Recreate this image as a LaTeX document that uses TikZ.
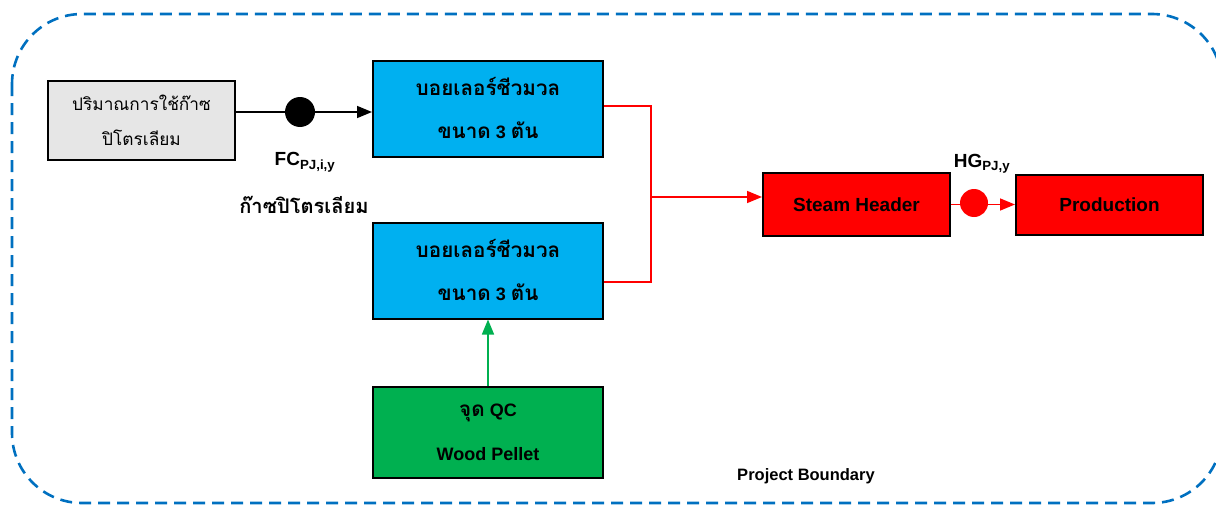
\documentclass[tikz,border=0pt]{standalone}
\usepackage{fontspec}
\setmainfont{Liberation Sans}
\newfontfamily\thaifont[Script=Thai,Scale=1.15]{Loma}
\newcommand{\thai}[1]{{\thaifont #1}}
\usetikzlibrary{positioning,arrows.meta}
\definecolor{gasgray}{HTML}{E6E6E6}
\definecolor{boilerblue}{HTML}{00B0F0}
\definecolor{qcgreen}{HTML}{00B050}
\definecolor{boundblue}{HTML}{0070C0}

\begin{document}
\begin{tikzpicture}[
  x=1pt, y=-1pt,
  box/.style={draw, line width=2pt, align=center, inner sep=0pt},
  boiler/.style={box, fill=boilerblue, minimum width=230pt, minimum height=96pt, font=\bfseries\fontsize{18}{43}\selectfont},
  redbox/.style={box, fill=red, minimum width=187pt, font=\bfseries\fontsize{19}{23}\selectfont},
  dot/.style={circle, inner sep=0pt, minimum size=30pt},
  flow/.style={line width=1.6pt},
  >={Triangle[length=15pt,width=12pt]}
]
\useasboundingbox (0,0) rectangle (1216,506);

% project boundary
\draw[boundblue, line width=2.6pt, dash pattern=on 12pt off 7pt, rounded corners=70pt]
  (12,14) rectangle (1222,503);
\node[font=\bfseries\fontsize{16.5}{20}\selectfont] (boundary) at (806,476) {Project Boundary};

% nodes
\node[box, fill=gasgray, minimum width=187pt, minimum height=79pt,
  font=\thaifont\fontsize{15}{35}\selectfont] (gas) at (141.5,120.5) {ปริมาณการใช้ก๊าซ\\ปิโตรเลียม};
\node[boiler] (boilerA) at (488,108.5) {\thai{บอยเลอร์ชีวมวล}\\\thai{ขนาด} 3 \thai{ตัน}};
\node[boiler, below=64pt of boilerA] (boilerB) {\thai{บอยเลอร์ชีวมวล}\\\thai{ขนาด} 3 \thai{ตัน}};
\node[box, fill=qcgreen, minimum width=230pt, minimum height=91pt,
  font=\bfseries\fontsize{18}{44}\selectfont, below=66pt of boilerB] (qc) {\thai{จุด} QC\\Wood Pellet};
\node[redbox, minimum height=63pt] (header) at (856.5,204.5) {Steam Header};
\node[redbox, minimum height=60pt, right=64pt of header] (prod) {Production};

% flows
\draw[flow, ->] (gas.east |- 0,112) -- (boilerA.west |- 0,112);
\node[dot, fill=black] (fcdot) at (300,112) {};
\node[font=\bfseries\fontsize{19}{23}\selectfont] (fclabel) at (305,162) {FC\textsubscript{PJ,i,y}};
\node[font=\thaifont\bfseries\fontsize{17.5}{23}\selectfont] (gaslabel) at (304,205) {ก๊าซปิโตรเลียม};

\coordinate (split) at (651,197);
\draw[flow, red] ([yshift=2.5pt]boilerA.east) -| (split);
\draw[flow, red] ([yshift=-11.5pt]boilerB.east) -| (split);
\draw[flow, red, ->] (split) -- (split -| header.west);

\draw[flow, red, ->] (header.east) -- (header.east -| prod.west);
\node[dot, fill=red, minimum size=28pt] (hgdot) at (974,203) {};
\node[font=\bfseries\fontsize{19}{23}\selectfont] (hglabel) at (982,164) {HG\textsubscript{PJ,y}};

\draw[flow, qcgreen, ->] (qc) -- (boilerB);
\end{tikzpicture}
\end{document}
